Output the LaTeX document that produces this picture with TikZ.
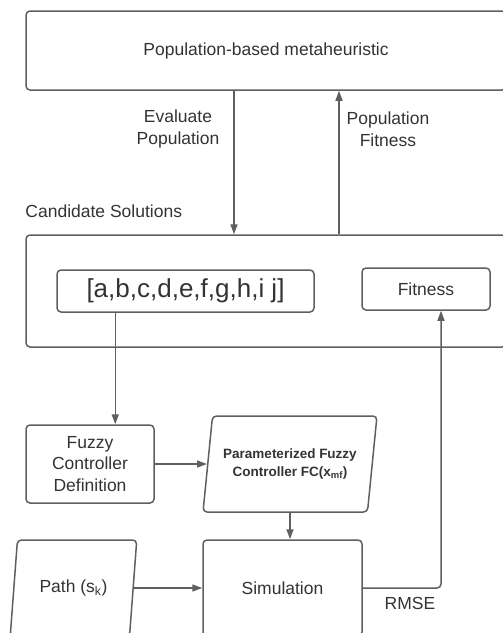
\documentclass[tikz,border=0pt]{standalone}
\usepackage{fontspec}
\setmainfont{Liberation Sans}
\usetikzlibrary{arrows.meta,shapes.geometric}
\definecolor{linegray}{HTML}{5F5F5F}
\definecolor{textgray}{HTML}{333333}

\begin{document}
\begin{tikzpicture}[x=1pt, y=-1pt,
    box/.style={rectangle, draw=linegray, line width=1.5pt, rounded corners=4pt, text=textgray, align=center, inner sep=0pt, font=\fontsize{17.5}{21.5}\selectfont},
    para/.style={trapezium, trapezium left angle=75, trapezium right angle=105, trapezium stretches=true, draw=linegray, line width=1.5pt, rounded corners=4pt, text=textgray, align=center, inner sep=0pt, font=\fontsize{17.5}{21.5}\selectfont},
    txt/.style={text=textgray, align=center, inner sep=0pt, font=\fontsize{17.5}{21.5}\selectfont},
    arrow/.style={-{Triangle[length=10pt,width=7pt]}, draw=linegray, line width=1.5pt}
]
    \useasboundingbox (0,0) rectangle (503,633);
    \clip (0,0) rectangle (503,633);

    % Optimizer
    \node[box, minimum width=480pt, minimum height=79pt] (meta) at (266,50.5) {Population-based metaheuristic};

    % Candidate solutions
    \node[box, minimum width=480pt, minimum height=112pt] (cand) at (266,291) {};
    \node[txt, anchor=west] (candlabel) at ([yshift=23pt]cand.north west) {Candidate Solutions};
    \node[box, minimum width=257pt, minimum height=42pt, font=\fontsize{26}{30}\selectfont] (vec) at (185.5,291) {[a,b,c,d,e,f,g,h,i j]};
    \node[box, minimum width=128pt, minimum height=42pt] (fit) at (426,289) {Fitness};

    % Controller and simulation
    \node[box, minimum width=128pt, minimum height=78pt] (fuzzy) at (90,464) {Fuzzy\\Controller\\Definition};
    \node[para, minimum width=174pt, minimum height=96pt, font=\bfseries\fontsize{13.5}{18}\selectfont] (param) at (290,464) {Parameterized Fuzzy\\Controller FC(x\textsubscript{mf})};
    \node[box, minimum width=159pt, minimum height=96pt] (sim) at (282.5,588) {Simulation};
    \node[para, minimum width=127pt, minimum height=96pt] (path) at (73.5,588) {Path (s\textsubscript{k})};

    % Labels
    \node[txt] (evallabel) at (178,129) {Evaluate\\Population};
    \node[txt] (fitlabel) at (388,129) {Population\\Fitness};
    \node[txt] (rmse) at (410,603) {RMSE};

    % Arrows
    \draw[arrow] ([xshift=-32pt]meta.south) -- ([xshift=-32pt]meta.south |- cand.north);
    \draw[arrow] ([xshift=73pt]meta.south |- cand.north) -- ([xshift=73pt]meta.south);
    \draw[arrow] ([xshift=59pt]vec.south west) -- ([xshift=59pt]vec.south west |- fuzzy.north);
    \draw[arrow] (fuzzy.east) -- (fuzzy.east -| param.west);
    \draw[arrow] (param.center |- param.south) -- (param.center |- sim.north);
    \draw[arrow] (path.east) -- (sim.west);
    \draw[arrow, rounded corners=4pt] (sim.east) -| ([xshift=15pt]fit.south);
\end{tikzpicture}
\end{document}
